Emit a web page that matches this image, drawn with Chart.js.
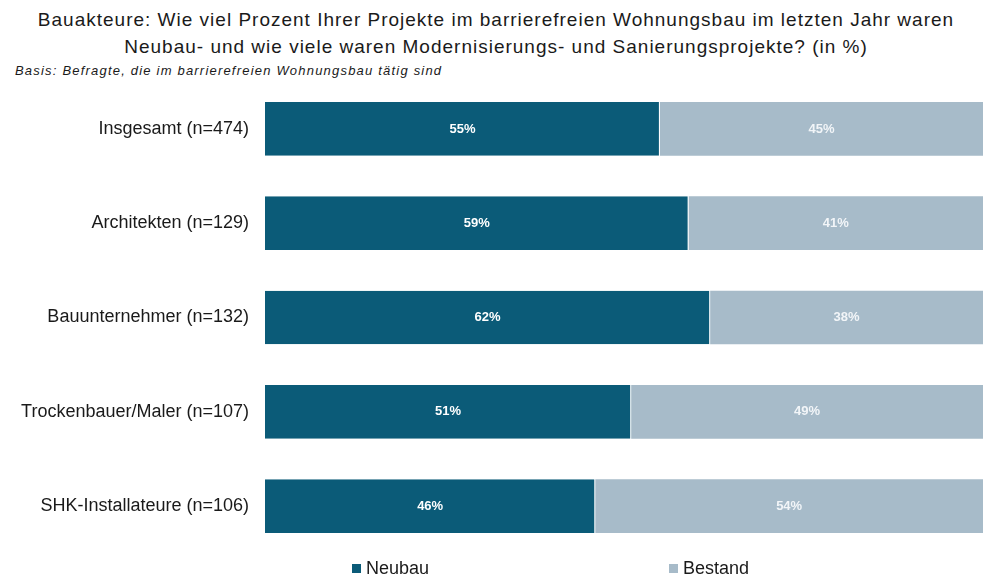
<!DOCTYPE html>
<html>
<head>
<meta charset="utf-8">
<script src="https://cdn.jsdelivr.net/npm/chart.js@4/dist/chart.umd.min.js"></script>
<style>
  body { margin: 0; background: #fff; font-family: "Liberation Sans", Arial, sans-serif; }
  #wrap { position: relative; width: 1000px; height: 588px; overflow: hidden; }
  .title { position: absolute; left: 0; width: 992px; text-align: center; font-size: 19px; letter-spacing: 1px; color: #1a1a1a; }
  .sub { position: absolute; left: 15px; top: 63px; font-size: 13px; letter-spacing: 1.2px; font-style: italic; color: #1a1a1a; }
  #box { position: absolute; left: 0; top: 55px; width: 1000px; height: 525px; }
  .leg { position: absolute; top: 558px; font-size: 18px; color: #1a1a1a; }
  .leg span { display: inline-block; width: 9px; height: 9px; margin-right: 5px; vertical-align: 1px; }
</style>
</head>
<body>
<div id="wrap">
  <div class="title" style="top:9px">Bauakteure: Wie viel Prozent Ihrer Projekte im barrierefreien Wohnungsbau im letzten Jahr waren</div>
  <div class="title" style="top:36px">Neubau- und wie viele waren Modernisierungs- und Sanierungsprojekte? (in %)</div>
  <div class="sub">Basis: Befragte, die im barrierefreien Wohnungsbau tätig sind</div>
  <div id="box"><canvas id="chart"></canvas></div>
  <div class="leg" style="left:352px"><span style="background:#0b5b78"></span>Neubau</div>
  <div class="leg" style="left:669px"><span style="background:#a7bbc9"></span>Bestand</div>
</div>
<script>
const categories = ['Insgesamt (n=474)', 'Architekten (n=129)', 'Bauunternehmer (n=132)', 'Trockenbauer/Maler (n=107)', 'SHK-Installateure (n=106)'];
const neubau = [55, 59, 62, 51, 46];
const bestand = [45, 41, 38, 49, 54];

// percent labels in the middle of each segment
const valueLabels = {
    id: 'valueLabels',
    afterDatasetsDraw(chart) {
        const ctx = chart.ctx;
        ctx.save();
        ctx.font = 'bold 13px "Liberation Sans", Arial, sans-serif';
        ctx.textAlign = 'center';
        ctx.textBaseline = 'middle';
        chart.data.datasets.forEach((ds, i) => {
            chart.getDatasetMeta(i).data.forEach((bar, j) => {
                const p = bar.getProps(['x', 'y', 'base'], true);
                ctx.fillStyle = i === 0 ? '#ffffff' : '#f2f5f8';
                ctx.fillText(ds.data[j] + '%', (p.x + p.base) / 2, p.y);
            });
        });
        ctx.restore();
    }
};

new Chart(document.getElementById('chart'), {
    type: 'bar',
    data: {
        labels: categories,
        datasets: [
            { label: 'Neubau', data: neubau, backgroundColor: '#0b5b78', borderColor: '#ffffff', borderWidth: { right: 1 }, borderSkipped: false },
            { label: 'Bestand', data: bestand, backgroundColor: '#a7bbc9', borderColor: '#ffffff', borderWidth: 0 }
        ]
    },
    options: {
        indexAxis: 'y',
        responsive: true,
        maintainAspectRatio: false,
        animation: false,
        layout: { padding: { right: 17, top: 0, bottom: 0 } },
        datasets: { bar: { categoryPercentage: 1, barPercentage: 0.57 } },
        plugins: { legend: { display: false }, tooltip: { enabled: false } },
        scales: {
            x: { stacked: true, min: 0, max: 100, display: false },
            y: {
                stacked: true,
                grid: { display: false, drawTicks: false },
                border: { display: false },
                ticks: { color: '#1a1a1a', padding: 16, font: { size: 18, family: '"Liberation Sans", Arial, sans-serif' } },
                afterFit(axis) { axis.width = 265; }
            }
        }
    },
    plugins: [valueLabels]
});
</script>
</body>
</html>
